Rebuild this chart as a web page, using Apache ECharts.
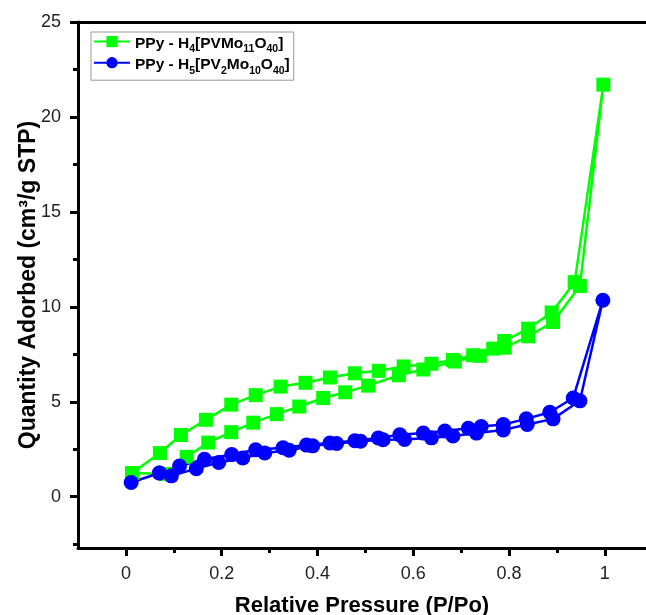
<!DOCTYPE html>
<html>
<head>
<meta charset="utf-8">
<script src="https://cdn.jsdelivr.net/npm/echarts@6/dist/echarts.min.js"></script>
<style>
  html, body { margin: 0; padding: 0; background: #fff; }
  #chart { width: 646px; height: 615px; }
</style>
</head>
<body>
<div id="chart"></div>
<script>
  // PPy - H4[PVMo11O40]: adsorption (lower) then desorption (upper)
  var greenAdsP = [0.013, 0.085, 0.127, 0.172, 0.22, 0.266, 0.315, 0.362, 0.412, 0.458, 0.506, 0.57, 0.621, 0.687, 0.739, 0.791, 0.84, 0.892, 0.948, 0.997];
  var greenAdsQ = [1.25, 1.2, 2.1, 2.85, 3.4, 3.9, 4.35, 4.75, 5.2, 5.5, 5.85, 6.4, 6.7, 7.12, 7.42, 7.85, 8.45, 9.2, 11.1, 21.7];
  var greenDesP = [0.937, 0.889, 0.84, 0.79, 0.767, 0.725, 0.683, 0.638, 0.58, 0.528, 0.478, 0.426, 0.375, 0.323, 0.271, 0.22, 0.167, 0.115, 0.071, 0.013];
  var greenDesQ = [11.3, 9.7, 8.85, 8.2, 7.8, 7.45, 7.2, 7.0, 6.86, 6.63, 6.5, 6.28, 6.0, 5.8, 5.35, 4.85, 4.05, 3.25, 2.3, 1.25];

  // PPy - H5[PV2Mo10O40]
  var blueAdsP = [0.011, 0.07, 0.095, 0.147, 0.194, 0.244, 0.29, 0.341, 0.39, 0.44, 0.49, 0.537, 0.582, 0.638, 0.683, 0.732, 0.788, 0.838, 0.892, 0.948, 0.996];
  var blueAdsQ = [0.75, 1.25, 1.1, 1.48, 1.8, 2.04, 2.3, 2.45, 2.68, 2.8, 2.92, 3.0, 3.02, 3.1, 3.2, 3.35, 3.52, 3.8, 4.1, 5.05, 10.35];
  var blueDesP = [0.934, 0.885, 0.836, 0.788, 0.742, 0.715, 0.666, 0.621, 0.572, 0.527, 0.478, 0.426, 0.377, 0.328, 0.271, 0.221, 0.164, 0.112, 0.07];
  var blueDesQ = [5.2, 4.45, 4.1, 3.8, 3.7, 3.61, 3.46, 3.35, 3.26, 3.09, 2.95, 2.83, 2.72, 2.58, 2.47, 2.22, 1.97, 1.62, 1.25];

  var xTicks = [0, 0.2, 0.4, 0.6, 0.8, 1];
  var xMinorTicks = [0.1, 0.3, 0.5, 0.7, 0.9];
  var yTicks = [0, 5, 10, 15, 20, 25];
  var yMinorTicks = [-2.5, 2.5, 7.5, 12.5, 17.5, 22.5];

  var seriesNames = ['PPy - H4[PVMo11O40]', 'PPy - H5[PV2Mo10O40]'];
  var legendRich = {};
  legendRich[seriesNames[0]] = '{b|PPy - H}{s|4}{b|[PVMo}{s|11}{b|O}{s|40}{b|]}';
  legendRich[seriesNames[1]] = '{b|PPy - H}{s|5}{b|[PV}{s|2}{b|Mo}{s|10}{b|O}{s|40}{b|]}';

  function pairs(px, qy) {
    var out = [];
    for (var i = 0; i < px.length; i++) out.push([px[i], qy[i]]);
    return out;
  }

  var font = 'Liberation Sans, Arial, sans-serif';
  var xMin = -0.1, xMax = 1.086;
  var yMin = -2.7, yMax = 25;

  var chart = echarts.init(document.getElementById('chart'));
  chart.setOption({
    backgroundColor: '#fff',
    animation: false,
    grid: { left: 78, top: 22, right: 0, bottom: 67, containLabel: false, outerBoundsMode: 'none' },
    legend: {
      orient: 'vertical',
      left: 91, top: 32,
      padding: [4, 4, 4, 2],
      itemGap: 2,
      itemWidth: 36,
      itemHeight: 14,
      borderColor: '#999',
      borderWidth: 1,
      data: seriesNames,
      formatter: function (name) { return legendRich[name]; },
      textStyle: {
        fontFamily: font,
        rich: {
          b: { fontSize: 15.5, fontWeight: 'bold', color: '#000', lineHeight: 21, verticalAlign: 'bottom' },
          s: { fontSize: 10.5, fontWeight: 'bold', color: '#000', lineHeight: 21, verticalAlign: 'bottom', padding: [0, 0, -3, 0] }
        }
      }
    },
    xAxis: [{
      type: 'value',
      min: xMin, max: xMax,
      position: 'bottom',
      name: 'Relative Pressure (P/Po)',
      nameLocation: 'middle',
      nameGap: 47,
      nameMoveOverlap: false,
      nameTextStyle: { fontFamily: font, fontSize: 22, fontWeight: 'bold', color: '#000' },
      axisLine: { onZero: false, lineStyle: { color: '#000', width: 3 } },
      axisTick: { customValues: xTicks, length: 8, lineStyle: { color: '#000', width: 3 } },
      axisLabel: { customValues: xTicks, fontFamily: font, fontSize: 18, color: '#222', margin: 17 },
      splitLine: { show: false }
    }, {
      type: 'value',
      min: xMin, max: xMax,
      position: 'bottom',
      axisLine: { show: false, onZero: false },
      axisTick: { customValues: xMinorTicks, length: 5, lineStyle: { color: '#000', width: 3 } },
      axisLabel: { show: false },
      splitLine: { show: false }
    }, {
      type: 'value',
      min: xMin, max: xMax,
      position: 'top',
      axisLine: { onZero: false, lineStyle: { color: '#000', width: 3 } },
      axisTick: { show: false },
      axisLabel: { show: false },
      splitLine: { show: false }
    }],
    yAxis: [{
      type: 'value',
      min: yMin, max: yMax,
      position: 'left',
      name: 'Quantity Adorbed (cm³/g STP)',
      nameLocation: 'middle',
      nameGap: 38,
      nameMoveOverlap: false,
      nameTextStyle: { fontFamily: font, fontSize: 23, fontWeight: 'bold', color: '#000' },
      axisLine: { onZero: false, lineStyle: { color: '#000', width: 3 } },
      axisTick: { customValues: yTicks, length: 8, lineStyle: { color: '#000', width: 3 } },
      axisLabel: { customValues: yTicks, fontFamily: font, fontSize: 18, color: '#222', margin: 17 },
      splitLine: { show: false }
    }, {
      type: 'value',
      min: yMin, max: yMax,
      position: 'left',
      axisLine: { show: false, onZero: false },
      axisTick: { customValues: yMinorTicks, length: 5, lineStyle: { color: '#000', width: 3 } },
      axisLabel: { show: false },
      splitLine: { show: false }
    }],
    series: [{
      name: seriesNames[0],
      type: 'line',
      xAxisIndex: 0, yAxisIndex: 0,
      data: pairs(greenAdsP, greenAdsQ).concat(pairs(greenDesP, greenDesQ)),
      symbol: 'rect',
      symbolSize: 14,
      color: '#00ff00',
      lineStyle: { width: 2.5, color: '#00ff00' },
      itemStyle: { color: '#00ff00' }
    }, {
      name: seriesNames[1],
      type: 'line',
      xAxisIndex: 0, yAxisIndex: 0,
      data: pairs(blueAdsP, blueAdsQ).concat(pairs(blueDesP, blueDesQ)),
      symbol: 'circle',
      symbolSize: 15,
      color: '#0000ff',
      lineStyle: { width: 2.5, color: '#0000ff' },
      itemStyle: { color: '#0000ff' }
    }]
  });
</script>
</body>
</html>
